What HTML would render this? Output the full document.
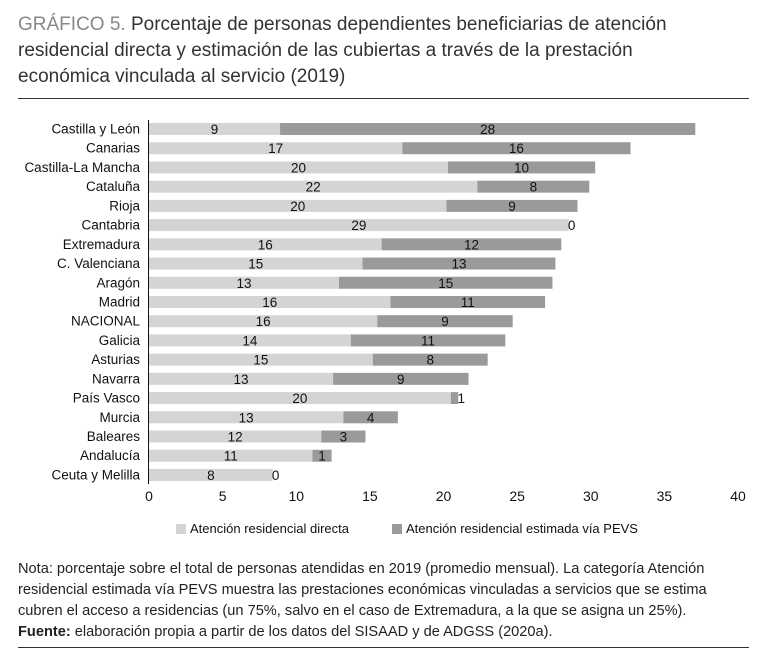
<!DOCTYPE html>
<html><head><meta charset="utf-8"><style>
body{margin:0;background:#fff;width:767px;height:660px;overflow:hidden;font-family:"Liberation Sans",sans-serif;}
.title{position:absolute;left:18px;top:12px;font-size:19px;line-height:26px;color:#333;white-space:nowrap}
.title b{color:#888;font-weight:normal}
.note{position:absolute;left:18px;top:559px;font-size:14.6px;line-height:21px;color:#222;white-space:nowrap}
.hr{position:absolute;left:18px;width:731px;height:1px;background:#333}
</style></head><body>
<div class="title"><b>GRÁFICO 5.</b> Porcentaje de personas dependientes beneficiarias de atención<br>residencial directa y estimación de las cubiertas a través de la prestación<br>económica vinculada al servicio (2019)</div>
<div class="hr" style="top:98px"></div>
<svg id="chart" width="767" height="560" style="position:absolute;left:0;top:0"></svg>
<div class="note">Nota: porcentaje sobre el total de personas atendidas en 2019 (promedio mensual). La categoría Atención<br>residencial estimada vía PEVS muestra las prestaciones económicas vinculadas a servicios que se estima<br>cubren el acceso a residencias (un 75%, salvo en el caso de Extremadura, a la que se asigna un 25%).<br><b>Fuente:</b> elaboración propia a partir de los datos del SISAAD y de ADGSS (2020a).</div>
<div class="hr" style="top:647px"></div>
<script>
const categories=["Castilla y León","Canarias","Castilla-La Mancha","Cataluña","Rioja","Cantabria","Extremadura","C. Valenciana","Aragón","Madrid","NACIONAL","Galicia","Asturias","Navarra","País Vasco","Murcia","Baleares","Andalucía","Ceuta y Melilla"];
const directa=[8.9,17.2,20.3,22.3,20.2,28.5,15.8,14.5,12.9,16.4,15.5,13.7,15.2,12.5,20.5,13.2,11.7,11.1,8.4];
const pevs=[28.2,15.5,10.0,7.6,8.9,0,12.2,13.1,14.5,10.5,9.2,10.5,7.8,9.2,0.5,3.7,3.0,1.3,0];
const directaLabels=["9","17","20","22","20","29","16","15","13","16","16","14","15","13","20","13","12","11","8"];
const pevsLabels=["28","16","10","8","9","0","12","13","15","11","9","11","8","9","1","4","3","1","0"];
const ticks=[0,5,10,15,20,25,30,35,40];
const NS="http://www.w3.org/2000/svg";
const svg=document.getElementById('chart');
const x=v=>149+v*14.725;
const y=i=>129+i*19.22;
function mk(t,a,txt){const e=document.createElementNS(NS,t);for(const k in a)e.setAttribute(k,a[k]);if(txt!==undefined)e.textContent=txt;svg.appendChild(e);return e;}
categories.forEach((c,i)=>{
  let e=mk('text',{x:140,y:y(i)+4.5,'text-anchor':'end','font-size':13.5,fill:'#111'},c);
  
  
  e=mk('rect',{x:x(0),y:y(i)-6,width:x(directa[i])-x(0),height:12,fill:'#d4d4d4'});
  
  
  e=mk('rect',{x:x(directa[i]),y:y(i)-6,width:x(directa[i]+pevs[i])-x(directa[i]),height:12,fill:'#9a9a9a'});
  
  
  e=mk('text',{x:(x(0)+x(directa[i]))/2,y:y(i)+5,'text-anchor':'middle','font-size':13.5,fill:'#111'},directaLabels[i]);
  
  
  const px=pevs[i]<1?x(directa[i]+pevs[i])+3:(x(directa[i])+x(directa[i]+pevs[i]))/2;
  e=mk('text',{x:px,y:y(i)+5,'text-anchor':'middle','font-size':13.5,fill:'#111'},pevsLabels[i]);
  
  
});
let ax=mk('line',{x1:148.5,x2:148.5,y1:120,y2:484,stroke:'#111','stroke-width':1});


ticks.forEach(t=>{
  const e=mk('text',{x:x(t),y:501,'text-anchor':'middle','font-size':14,fill:'#111'},String(t));
  
  
});
let l=mk('rect',{x:176,y:524,width:10,height:10,fill:'#d4d4d4'});


l=mk('text',{x:190,y:533,'font-size':13,fill:'#111'},'Atención residencial directa');


l=mk('rect',{x:392,y:524,width:10,height:10,fill:'#9a9a9a'});


l=mk('text',{x:406,y:533,'font-size':13,fill:'#111'},'Atención residencial estimada vía PEVS');


</script>
</body></html>
